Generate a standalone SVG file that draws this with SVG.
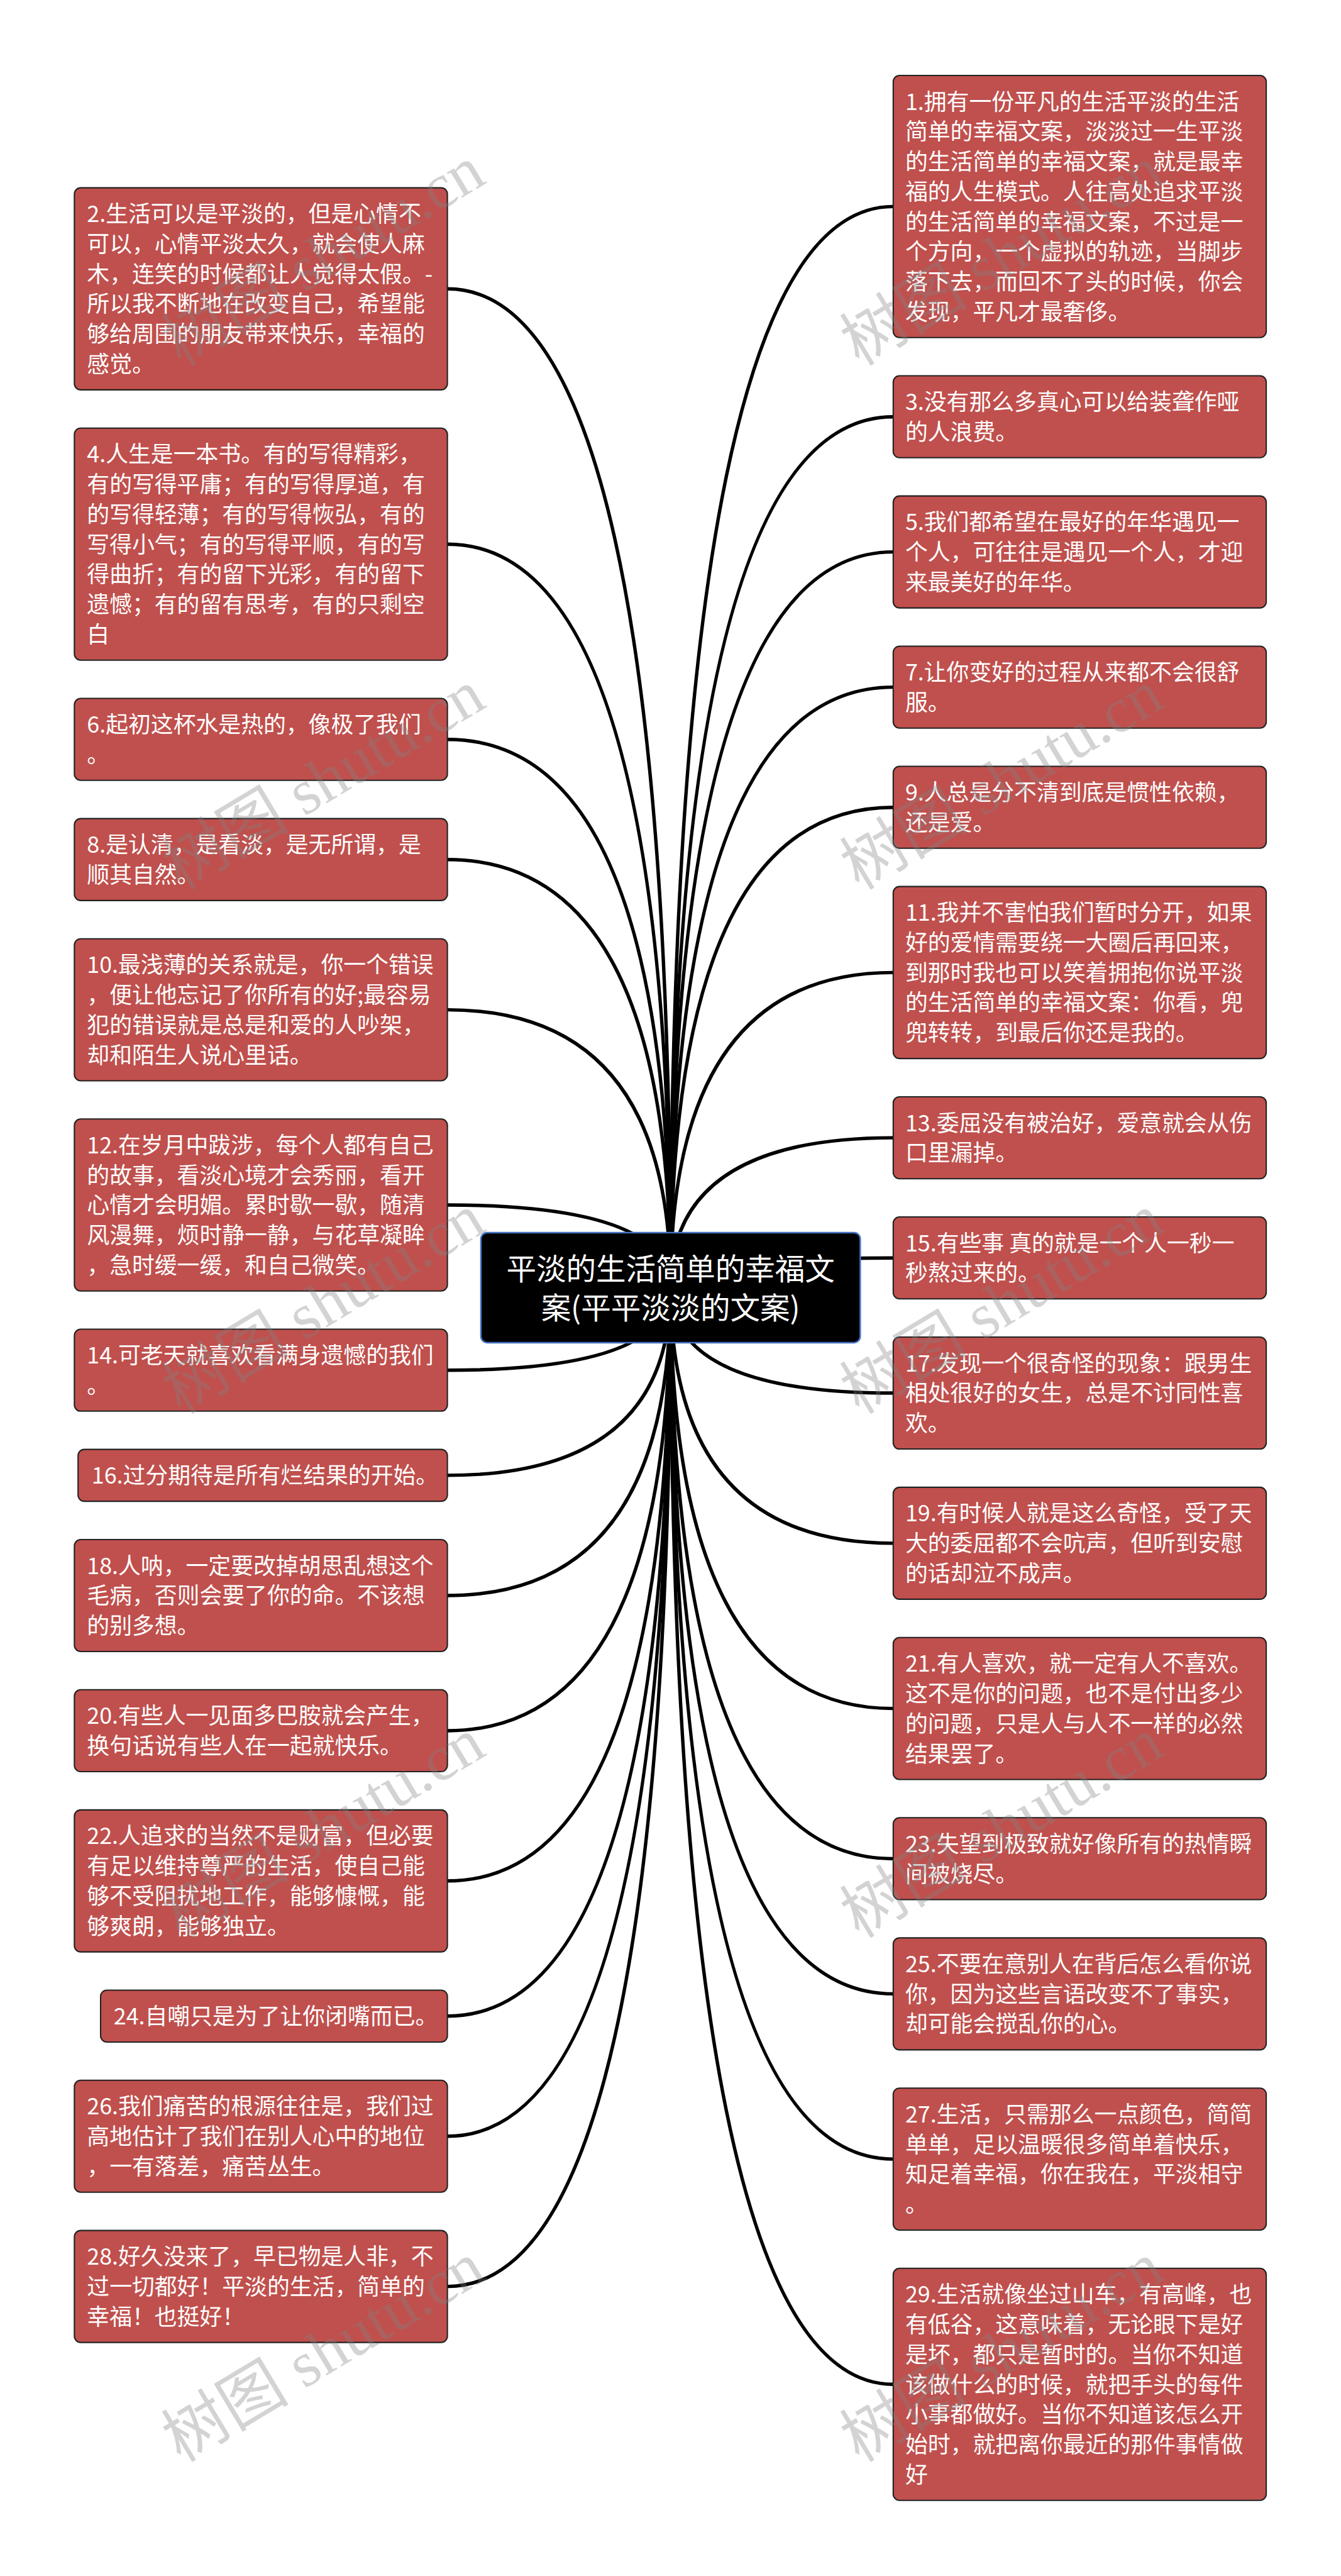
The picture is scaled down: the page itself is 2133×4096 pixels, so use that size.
<svg xmlns="http://www.w3.org/2000/svg" width="2133" height="4096" viewBox="0 0 2133 4096">
<style>
.n rect{fill:#C0504D;stroke:#222;stroke-width:2.5}
.n text{font-family:"Noto Sans CJK SC","Noto Sans",sans-serif;font-size:43px;fill:#fff}
.c path{fill:none;stroke:#000;stroke-width:6.5}
.root rect{fill:#000;stroke:#4472C4;stroke-width:3}
.root text{font-family:"Noto Sans CJK SC","Noto Sans",sans-serif;font-size:57px;fill:#fff;text-anchor:middle}
.wm text{font-family:"Liberation Serif","Noto Sans CJK SC",serif;font-size:122px;fill:#808080;fill-opacity:0.35}
</style>
<rect width="2133" height="4096" fill="#fff"/>
<g transform="scale(0.8333)">
<g id="connectors" class="c">
<path d="M1280 2457 Q1280 551.2 854 551.2"/>
<path d="M1280 2457 Q1280 1038.3 854 1038.3"/>
<path d="M1280 2457 Q1280 1410.9 854 1410.9"/>
<path d="M1280 2457 Q1280 1640.2 854 1640.2"/>
<path d="M1280 2457 Q1280 1926.8 854 1926.8"/>
<path d="M1280 2457 Q1280 2299.3 854 2299.3"/>
<path d="M1280 2457 Q1280 2614.6 854 2614.6"/>
<path d="M1280 2457 Q1280 2815.2 854 2815.2"/>
<path d="M1280 2457 Q1280 3044.5 854 3044.5"/>
<path d="M1280 2457 Q1280 3302.5 854 3302.5"/>
<path d="M1280 2457 Q1280 3589.1 854 3589.1"/>
<path d="M1280 2457 Q1280 3847 854 3847"/>
<path d="M1280 2457 Q1280 4076.3 854 4076.3"/>
<path d="M1280 2457 Q1280 4362.9 854 4362.9"/>
<path d="M1280 2457 Q1280 394.1 1705 394.1"/>
<path d="M1280 2457 Q1280 795.3 1705 795.3"/>
<path d="M1280 2457 Q1280 1053.2 1705 1053.2"/>
<path d="M1280 2457 Q1280 1311.2 1705 1311.2"/>
<path d="M1280 2457 Q1280 1540.5 1705 1540.5"/>
<path d="M1280 2457 Q1280 1855.7 1705 1855.7"/>
<path d="M1280 2457 Q1280 2171 1705 2171"/>
<path d="M1280 2457 Q1280 2400.3 1705 2400.3"/>
<path d="M1280 2457 Q1280 2658.2 1705 2658.2"/>
<path d="M1280 2457 Q1280 2944.8 1705 2944.8"/>
<path d="M1280 2457 Q1280 3260.1 1705 3260.1"/>
<path d="M1280 2457 Q1280 3546.7 1705 3546.7"/>
<path d="M1280 2457 Q1280 3804.6 1705 3804.6"/>
<path d="M1280 2457 Q1280 4119.9 1705 4119.9"/>
<path d="M1280 2457 Q1280 4549.7 1705 4549.7"/>
</g>
<g id="root" class="root">
<rect x="918" y="2352" width="724" height="210" rx="12"/>
<text><tspan x="1280" y="2441.7">平淡的生活简单的幸福文</tspan><tspan x="1280" y="2516.7">案(平平淡淡的文案)</tspan></text>
</g>
<g id="n2" class="n"><rect x="142" y="358.4" width="712" height="385.5" rx="12"/>
<text><tspan x="166" y="423.9">2.生活可以是平淡的，但是心情不</tspan><tspan x="166" y="481.2">可以，心情平淡太久，就会使人麻</tspan><tspan x="166" y="538.5">木，连笑的时候都让人觉得太假。-</tspan><tspan x="166" y="595.8">所以我不断地在改变自己，希望能</tspan><tspan x="166" y="653.1">够给周围的朋友带来快乐，幸福的</tspan><tspan x="166" y="710.4">感觉。</tspan></text></g>
<g id="n4" class="n"><rect x="142" y="816.9" width="712" height="442.8" rx="12"/>
<text><tspan x="166" y="882.4">4.人生是一本书。有的写得精彩，</tspan><tspan x="166" y="939.7">有的写得平庸；有的写得厚道，有</tspan><tspan x="166" y="997">的写得轻薄；有的写得恢弘，有的</tspan><tspan x="166" y="1054.3">写得小气；有的写得平顺，有的写</tspan><tspan x="166" y="1111.6">得曲折；有的留下光彩，有的留下</tspan><tspan x="166" y="1168.9">遗憾；有的留有思考，有的只剩空</tspan><tspan x="166" y="1226.2">白</tspan></text></g>
<g id="n6" class="n"><rect x="142" y="1332.7" width="712" height="156.3" rx="12"/>
<text><tspan x="166" y="1398.2">6.起初这杯水是热的，像极了我们</tspan><tspan x="166" y="1455.5">。</tspan></text></g>
<g id="n8" class="n"><rect x="142" y="1562" width="712" height="156.3" rx="12"/>
<text><tspan x="166" y="1627.5">8.是认清，是看淡，是无所谓，是</tspan><tspan x="166" y="1684.8">顺其自然。</tspan></text></g>
<g id="n10" class="n"><rect x="142" y="1791.3" width="712" height="270.9" rx="12"/>
<text><tspan x="166" y="1856.8">10.最浅薄的关系就是，你一个错误</tspan><tspan x="166" y="1914.1">，便让他忘记了你所有的好;最容易</tspan><tspan x="166" y="1971.4">犯的错误就是总是和爱的人吵架，</tspan><tspan x="166" y="2028.7">却和陌生人说心里话。</tspan></text></g>
<g id="n12" class="n"><rect x="142" y="2135.2" width="712" height="328.2" rx="12"/>
<text><tspan x="166" y="2200.7">12.在岁月中跋涉，每个人都有自己</tspan><tspan x="166" y="2258">的故事，看淡心境才会秀丽，看开</tspan><tspan x="166" y="2315.3">心情才会明媚。累时歇一歇，随清</tspan><tspan x="166" y="2372.6">风漫舞，烦时静一静，与花草凝眸</tspan><tspan x="166" y="2429.9">，急时缓一缓，和自己微笑。</tspan></text></g>
<g id="n14" class="n"><rect x="142" y="2536.4" width="712" height="156.3" rx="12"/>
<text><tspan x="166" y="2601.9">14.可老天就喜欢看满身遗憾的我们</tspan><tspan x="166" y="2659.2">。</tspan></text></g>
<g id="n16" class="n"><rect x="149" y="2765.7" width="705" height="99" rx="12"/>
<text><tspan x="175" y="2831.2">16.过分期待是所有烂结果的开始。</tspan></text></g>
<g id="n18" class="n"><rect x="142" y="2937.7" width="712" height="213.6" rx="12"/>
<text><tspan x="166" y="3003.2">18.人呐，一定要改掉胡思乱想这个</tspan><tspan x="166" y="3060.5">毛病，否则会要了你的命。不该想</tspan><tspan x="166" y="3117.8">的别多想。</tspan></text></g>
<g id="n20" class="n"><rect x="142" y="3224.3" width="712" height="156.3" rx="12"/>
<text><tspan x="166" y="3289.8">20.有些人一见面多巴胺就会产生，</tspan><tspan x="166" y="3347.1">换句话说有些人在一起就快乐。</tspan></text></g>
<g id="n22" class="n"><rect x="142" y="3453.6" width="712" height="270.9" rx="12"/>
<text><tspan x="166" y="3519.1">22.人追求的当然不是财富，但必要</tspan><tspan x="166" y="3576.4">有足以维持尊严的生活，使自己能</tspan><tspan x="166" y="3633.7">够不受阻扰地工作，能够慷慨，能</tspan><tspan x="166" y="3691">够爽朗，能够独立。</tspan></text></g>
<g id="n24" class="n"><rect x="192" y="3797.5" width="662" height="99" rx="12"/>
<text><tspan x="217" y="3863">24.自嘲只是为了让你闭嘴而已。</tspan></text></g>
<g id="n26" class="n"><rect x="142" y="3969.5" width="712" height="213.6" rx="12"/>
<text><tspan x="166" y="4035">26.我们痛苦的根源往往是，我们过</tspan><tspan x="166" y="4092.3">高地估计了我们在别人心中的地位</tspan><tspan x="166" y="4149.6">，一有落差，痛苦丛生。</tspan></text></g>
<g id="n28" class="n"><rect x="142" y="4256.1" width="712" height="213.6" rx="12"/>
<text><tspan x="166" y="4321.6">28.好久没来了，早已物是人非，不</tspan><tspan x="166" y="4378.9">过一切都好！平淡的生活，简单的</tspan><tspan x="166" y="4436.2">幸福！也挺好！</tspan></text></g>
<g id="n1" class="n"><rect x="1705" y="144" width="712" height="500.1" rx="12"/>
<text><tspan x="1728" y="209.5">1.拥有一份平凡的生活平淡的生活</tspan><tspan x="1728" y="266.8">简单的幸福文案，淡淡过一生平淡</tspan><tspan x="1728" y="324.1">的生活简单的幸福文案，就是最幸</tspan><tspan x="1728" y="381.4">福的人生模式。人往高处追求平淡</tspan><tspan x="1728" y="438.7">的生活简单的幸福文案，不过是一</tspan><tspan x="1728" y="496">个方向，一个虚拟的轨迹，当脚步</tspan><tspan x="1728" y="553.3">落下去，而回不了头的时候，你会</tspan><tspan x="1728" y="610.6">发现，平凡才最奢侈。</tspan></text></g>
<g id="n3" class="n"><rect x="1705" y="717.1" width="712" height="156.3" rx="12"/>
<text><tspan x="1728" y="782.6">3.没有那么多真心可以给装聋作哑</tspan><tspan x="1728" y="839.9">的人浪费。</tspan></text></g>
<g id="n5" class="n"><rect x="1705" y="946.4" width="712" height="213.6" rx="12"/>
<text><tspan x="1728" y="1011.9">5.我们都希望在最好的年华遇见一</tspan><tspan x="1728" y="1069.2">个人，可往往是遇见一个人，才迎</tspan><tspan x="1728" y="1126.5">来最美好的年华。</tspan></text></g>
<g id="n7" class="n"><rect x="1705" y="1233" width="712" height="156.3" rx="12"/>
<text><tspan x="1728" y="1298.5">7.让你变好的过程从来都不会很舒</tspan><tspan x="1728" y="1355.8">服。</tspan></text></g>
<g id="n9" class="n"><rect x="1705" y="1462.3" width="712" height="156.3" rx="12"/>
<text><tspan x="1728" y="1527.8">9.人总是分不清到底是惯性依赖，</tspan><tspan x="1728" y="1585.1">还是爱。</tspan></text></g>
<g id="n11" class="n"><rect x="1705" y="1691.6" width="712" height="328.2" rx="12"/>
<text><tspan x="1728" y="1757.1">11.我并不害怕我们暂时分开，如果</tspan><tspan x="1728" y="1814.4">好的爱情需要绕一大圈后再回来，</tspan><tspan x="1728" y="1871.7">到那时我也可以笑着拥抱你说平淡</tspan><tspan x="1728" y="1929">的生活简单的幸福文案：你看，兜</tspan><tspan x="1728" y="1986.3">兜转转，到最后你还是我的。</tspan></text></g>
<g id="n13" class="n"><rect x="1705" y="2092.8" width="712" height="156.3" rx="12"/>
<text><tspan x="1728" y="2158.3">13.委屈没有被治好，爱意就会从伤</tspan><tspan x="1728" y="2215.6">口里漏掉。</tspan></text></g>
<g id="n15" class="n"><rect x="1705" y="2322.1" width="712" height="156.3" rx="12"/>
<text><tspan x="1728" y="2387.6">15.有些事 真的就是一个人一秒一</tspan><tspan x="1728" y="2444.9">秒熬过来的。</tspan></text></g>
<g id="n17" class="n"><rect x="1705" y="2551.4" width="712" height="213.6" rx="12"/>
<text><tspan x="1728" y="2616.9">17.发现一个很奇怪的现象：跟男生</tspan><tspan x="1728" y="2674.2">相处很好的女生，总是不讨同性喜</tspan><tspan x="1728" y="2731.5">欢。</tspan></text></g>
<g id="n19" class="n"><rect x="1705" y="2838" width="712" height="213.6" rx="12"/>
<text><tspan x="1728" y="2903.5">19.有时候人就是这么奇怪，受了天</tspan><tspan x="1728" y="2960.8">大的委屈都不会吭声，但听到安慰</tspan><tspan x="1728" y="3018.1">的话却泣不成声。</tspan></text></g>
<g id="n21" class="n"><rect x="1705" y="3124.6" width="712" height="270.9" rx="12"/>
<text><tspan x="1728" y="3190.1">21.有人喜欢，就一定有人不喜欢。</tspan><tspan x="1728" y="3247.4">这不是你的问题，也不是付出多少</tspan><tspan x="1728" y="3304.7">的问题，只是人与人不一样的必然</tspan><tspan x="1728" y="3362">结果罢了。</tspan></text></g>
<g id="n23" class="n"><rect x="1705" y="3468.5" width="712" height="156.3" rx="12"/>
<text><tspan x="1728" y="3534">23.失望到极致就好像所有的热情瞬</tspan><tspan x="1728" y="3591.3">间被烧尽。</tspan></text></g>
<g id="n25" class="n"><rect x="1705" y="3697.8" width="712" height="213.6" rx="12"/>
<text><tspan x="1728" y="3763.3">25.不要在意别人在背后怎么看你说</tspan><tspan x="1728" y="3820.6">你，因为这些言语改变不了事实，</tspan><tspan x="1728" y="3877.9">却可能会搅乱你的心。</tspan></text></g>
<g id="n27" class="n"><rect x="1705" y="3984.4" width="712" height="270.9" rx="12"/>
<text><tspan x="1728" y="4049.9">27.生活，只需那么一点颜色，简简</tspan><tspan x="1728" y="4107.2">单单，足以温暖很多简单着快乐，</tspan><tspan x="1728" y="4164.5">知足着幸福，你在我在，平淡相守</tspan><tspan x="1728" y="4221.8">。</tspan></text></g>
<g id="n29" class="n"><rect x="1705" y="4328.3" width="712" height="442.8" rx="12"/>
<text><tspan x="1728" y="4393.8">29.生活就像坐过山车，有高峰，也</tspan><tspan x="1728" y="4451.1">有低谷，这意味着，无论眼下是好</tspan><tspan x="1728" y="4508.4">是坏，都只是暂时的。当你不知道</tspan><tspan x="1728" y="4565.7">该做什么的时候，就把手头的每件</tspan><tspan x="1728" y="4623">小事都做好。当你不知道该怎么开</tspan><tspan x="1728" y="4680.3">始时，就把离你最近的那件事情做</tspan><tspan x="1728" y="4737.6">好</tspan></text></g>
<g id="watermarks" class="wm">
<text transform="translate(345 700) rotate(-31)">树图 shutu.cn</text>
<text transform="translate(345 1700) rotate(-31)">树图 shutu.cn</text>
<text transform="translate(345 2700) rotate(-31)">树图 shutu.cn</text>
<text transform="translate(345 3700) rotate(-31)">树图 shutu.cn</text>
<text transform="translate(345 4700) rotate(-31)">树图 shutu.cn</text>
<text transform="translate(1640 700) rotate(-31)">树图 shutu.cn</text>
<text transform="translate(1640 1700) rotate(-31)">树图 shutu.cn</text>
<text transform="translate(1640 2700) rotate(-31)">树图 shutu.cn</text>
<text transform="translate(1640 3700) rotate(-31)">树图 shutu.cn</text>
<text transform="translate(1640 4700) rotate(-31)">树图 shutu.cn</text>
</g>
</g>
</svg>
